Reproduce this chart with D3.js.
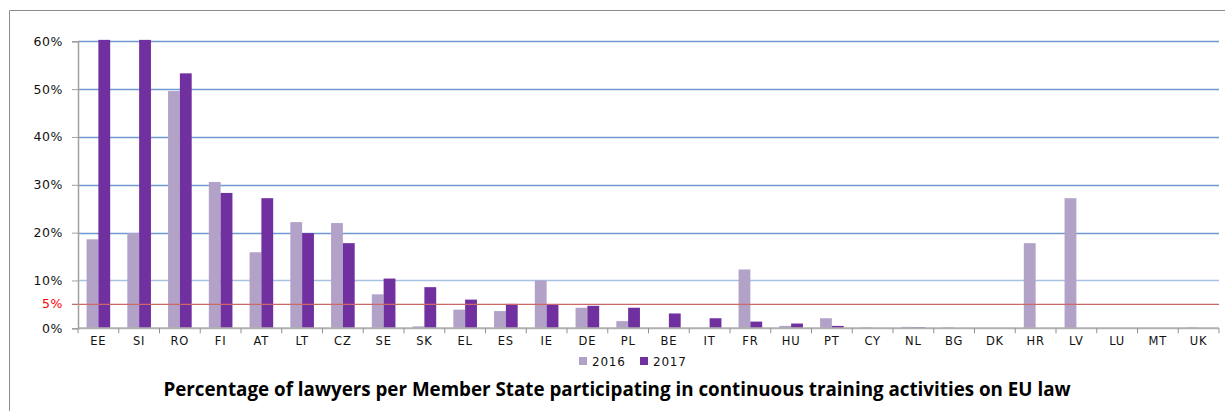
<!DOCTYPE html>
<html>
<head>
<meta charset="utf-8">
<script src="https://cdn.jsdelivr.net/npm/d3@7"></script>
<style>
  body { margin: 0; background: #fff; }
  svg { display: block; }
</style>
</head>
<body>
<div id="graph"></div>
<script>
const countries = ["EE","SI","RO","FI","AT","LT","CZ","SE","SK","EL","ES","IE","DE","PL","BE","IT","FR","HU","PT","CY","NL","BG","DK","HR","LV","LU","MT","UK"];
const years = ["2016", "2017"];
const values2016 = [18.6,19.9,49.6,30.6,15.9,22.2,22.0,7.1,0.4,3.9,3.6,10.0,4.3,1.5,0,0.1,12.3,0.5,2.1,0.2,0.3,0.2,0,17.8,27.2,0,0,0.2];
const values2017 = [60.3,60.3,53.3,28.3,27.2,19.9,17.8,10.4,8.6,6.0,5.1,5.0,4.7,4.3,3.1,2.1,1.4,1.0,0.5,0,0.2,0,0,0,0,0,0,0];
const yTicks = [0, 10, 20, 30, 40, 50, 60];
const threshold = 5;
const title = "Percentage of lawyers per Member State participating in continuous training activities on EU law";

const colors = { "2016": "#b3a2c7", "2017": "#7030a0" };

const drawGraph = () => {
    const svgWidth = 1225;
    const svgHeight = 411;
    const left = 78, right = 1219, top = 41.3, bottom = 328.3;
    const font = "DejaVu Sans, Verdana, sans-serif";

    const svg = d3.select("#graph").append("svg").attr("width", svgWidth).attr("height", svgHeight);

    // outer frame (top and left edges only visible)
    svg.append("path").attr("d", "M9.5,411 V10.5 H1225").attr("fill", "none").attr("stroke", "#8c8c8c").attr("stroke-width", 1);

    const xScale = d3.scaleBand().domain(countries).range([left, right]).paddingInner(0.42).paddingOuter(0.21);
    const x1 = d3.scaleBand().domain(years).range([0, xScale.bandwidth()]);
    const yScale = d3.scaleLinear().domain([0, 60]).range([bottom, top]);

    // gridlines
    svg.append("g").selectAll("line").data(yTicks.filter(d => d > 0)).enter().append("line")
        .attr("x1", left).attr("x2", right)
        .attr("y1", d => Math.round(yScale(d)) + 0.5).attr("y2", d => Math.round(yScale(d)) + 0.5)
        .attr("stroke", d => d === 10 ? "#a9c2e4" : "#6f99d2").attr("stroke-width", 1.3);

    const data = countries.map((c, i) => ({ c: c, "2016": values2016[i], "2017": values2017[i] }));

    const groups = svg.append("g").selectAll("g").data(data).enter().append("g")
        .attr("transform", d => "translate(" + xScale(d.c) + ",0)");
    groups.selectAll("rect").data(d => years.map(y => ({ y: y, v: d[y] }))).enter().append("rect")
        .attr("x", d => x1(d.y)).attr("width", x1.bandwidth())
        .attr("y", d => yScale(d.v)).attr("height", d => bottom - yScale(d.v))
        .attr("fill", d => colors[d.y]);

    // 5% threshold line
    svg.append("line").attr("x1", 72).attr("x2", right)
        .attr("y1", yScale(threshold)).attr("y2", yScale(threshold))
        .attr("stroke", "#c96a68").attr("stroke-width", 1.4);

    // x axis
    const xAxis = svg.append("g").attr("transform", "translate(0," + bottom + ")");
    xAxis.append("line").attr("x1", left).attr("x2", right).attr("stroke", "#b0b0b0").attr("stroke-width", 2);
    const step = xScale.step();
    xAxis.selectAll("line.tick").data(d3.range(countries.length + 1)).enter().append("line").attr("class", "tick")
        .attr("x1", i => left + i * step).attr("x2", i => left + i * step)
        .attr("y1", 0).attr("y2", 5).attr("stroke", "#909090").attr("stroke-width", 1);
    xAxis.selectAll("text").data(countries).enter().append("text")
        .attr("x", d => xScale(d) + xScale.bandwidth() / 2).attr("y", 17)
        .attr("text-anchor", "middle").attr("font-family", font)
        .attr("font-size", 11.5).attr("letter-spacing", 0.8).attr("fill", "#111").text(d => d);

    // y axis
    const yAxis = d3.axisLeft(yScale).tickValues(yTicks).tickSize(6).tickFormat(d => d + "%");
    const gy = svg.append("g").attr("transform", "translate(" + left + ",0)").call(yAxis);
    gy.select(".domain").attr("stroke", "#a0a0a0").attr("stroke-width", 1.5);
    gy.selectAll(".tick line").attr("stroke", "#a0a0a0");
    gy.selectAll(".tick text").attr("x", -15).attr("font-family", font)
        .attr("font-size", 12.5).attr("letter-spacing", 0.6).attr("fill", "#111");

    // red 5% label
    svg.append("text").attr("x", 63).attr("y", yScale(threshold)).attr("dy", "0.32em")
        .attr("text-anchor", "end").attr("font-family", font)
        .attr("font-size", 12.5).attr("letter-spacing", 0.6).attr("fill", "#ff0000").text(threshold + "%");

    // legend
    const legendX = [579, 640];
    const legend = svg.append("g").selectAll("g").data(years).enter().append("g")
        .attr("transform", (d, i) => "translate(" + legendX[i] + ",357)");
    legend.append("rect").attr("width", 8).attr("height", 8).attr("fill", d => colors[d]);
    legend.append("text").attr("x", 13).attr("y", 9).attr("font-family", font)
        .attr("font-size", 12).attr("letter-spacing", 0.8).attr("fill", "#111").text(d => d);

    // title
    svg.append("text").attr("x", 617).attr("y", 396).attr("text-anchor", "middle")
        .attr("font-family", "Open Sans, sans-serif").attr("font-weight", "bold")
        .attr("font-size", 18.8).attr("fill", "#000").text(title);
};

drawGraph();
</script>
</body>
</html>
